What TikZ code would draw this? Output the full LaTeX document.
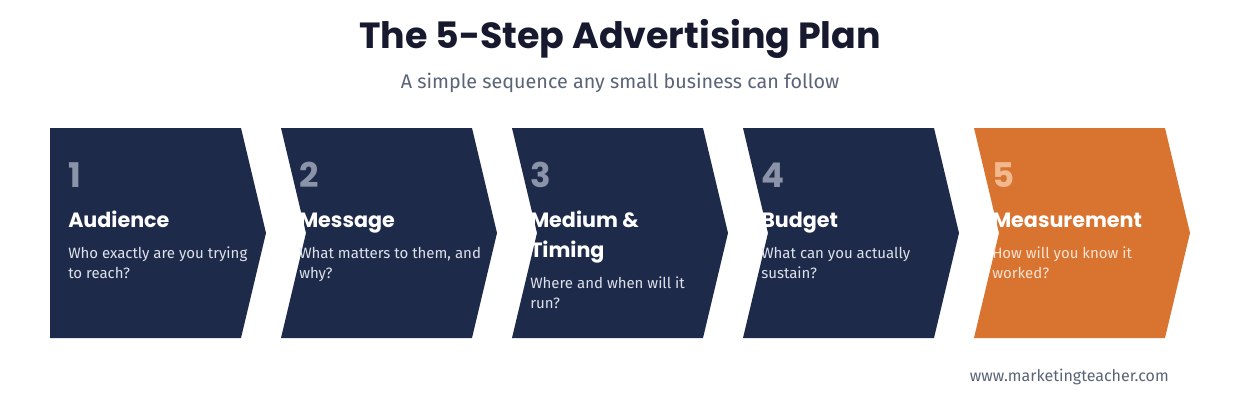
\documentclass[tikz,border=0pt]{standalone}
\usepackage{fontspec}
\setmainfont{Fira Sans}
\newfontfamily\headfont{Poppins}
\usetikzlibrary{positioning}
\definecolor{navy}{HTML}{1E2A4A}
\definecolor{accent}{HTML}{D97330}
\definecolor{inkdark}{HTML}{171A2E}
\definecolor{subgray}{HTML}{5A6478}
\definecolor{numgray}{HTML}{8A93A8}
\definecolor{descgray}{HTML}{DCE1EA}
\definecolor{numpeach}{HTML}{F2B88E}
\definecolor{descpeach}{HTML}{FBE3D2}
\begin{document}
\begin{tikzpicture}[x=0.75pt, y=-0.75pt,
    stepnum/.style={anchor=base west, inner sep=0pt, font=\headfont\bfseries\fontsize{25.5}{30}\selectfont},
    steptitle/.style={inner sep=0pt, align=left, text=white, font=\headfont\bfseries\fontsize{15.5}{22.5}\selectfont},
    stepdesc/.style={inner sep=0pt, align=left, font=\fontsize{11.25}{15}\selectfont}]
    % Page
    \fill[white] (0,0) rectangle (1240,404);
    \useasboundingbox (0,0) rectangle (1240,404);
    % Heading
    \node[anchor=base, text=inkdark, font=\headfont\bfseries\fontsize{27.3}{33}\selectfont] (title) at (620,48) {The 5-Step Advertising Plan};
    \node[anchor=base, text=subgray, font=\fontsize{14.8}{18}\selectfont] (subtitle) at (620,88) {A simple sequence any small business can follow};
    % Chevrons with their texts
    \foreach \i/\notch/\fillc/\numc/\descc/\ttl/\dsc in {
        1/0/navy/numgray/descgray/{Audience}/{Who exactly are you trying\\to reach?},
        2/25/navy/numgray/descgray/{Message}/{What matters to them, and\\why?},
        3/25/navy/numgray/descgray/{Medium \&\\Timing}/{Where and when will it\\run?},
        4/25/navy/numgray/descgray/{Budget}/{What can you actually\\sustain?},
        5/25/accent/numpeach/descpeach/{Measurement}/{How will you know it\\worked?}}
    {
    \pgfmathsetmacro{\xo}{50+231*(\i-1)}
    \fill[\fillc] (\xo,128) -- ++(191,0) -- ++(25,105) -- ++(-25,105) -- ++(-191,0) -- ++(\notch,-105) -- cycle;
    \node[stepnum, text=\numc] (n\i) at (\xo+18,187) {\i};
    \node[steptitle, below=14.25pt of n\i.base west, anchor=north west] (t\i) {\strut\ttl\strut};
    \node[stepdesc, text=\descc, below=6pt of t\i.south west, anchor=north west] (d\i) {\strut\dsc};
    }
    % Footer
    \node[anchor=base east, inner sep=0pt, text=subgray, font=\fontsize{12}{14}\selectfont] (site) at (1169,381) {www.marketingteacher.com};
\end{tikzpicture}
\end{document}
